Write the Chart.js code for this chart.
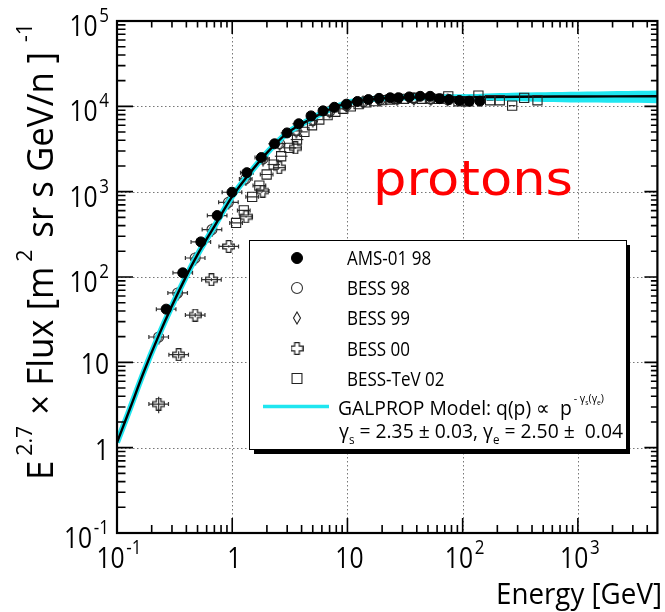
<!DOCTYPE html>
<html>
<head>
<meta charset="utf-8">
<script src="https://cdn.jsdelivr.net/npm/chart.js@4.4.1/dist/chart.umd.min.js"></script>
<style>
  html, body { margin: 0; padding: 0; background: #fff; }
</style>
</head>
<body>
<canvas id="fluxChart" width="665" height="612"></canvas>
<script>
// axis ranges
const xMin = 0.1, xMax = 4900;
const yMin = 0.1, yMax = 1e5;
const xTickValues = [0.1, 1, 10, 100, 1000];
const yTickValues = [0.1, 1, 10, 100, 1000, 10000, 100000];

// AMS-01 98 (filled circles)
const amsE = [0.267, 0.372, 0.534, 0.740, 0.995, 1.34, 1.79, 2.33, 2.99, 3.78, 4.83, 6.14, 7.70, 9.8, 12.2, 15.2, 18.8, 23.5, 27.8, 34.4, 42.8, 52.2, 62.9, 76.2, 93.6, 114, 141];
const amsF = [42, 112, 258, 525, 985, 1670, 2510, 3640, 4880, 6250, 7730, 8850, 9750, 10600, 11400, 12000, 12400, 12600, 12600, 12900, 13100, 13100, 12300, 12000, 11700, 11500, 11500];

// BESS 98 (open circles)
const b98E = [0.230, 0.336, 0.477, 0.667, 0.927, 1.31, 1.85, 2.58, 3.6, 5.0, 7.0, 9.8, 13.7, 19.2, 27, 37.7, 52.8, 74, 103];
const b98F = [19.8, 65, 167, 360, 750, 1410, 2420, 3660, 5150, 6900, 8700, 10200, 11300, 11900, 12200, 12300, 12200, 12000, 11800];

// BESS 99 (open diamonds)
const b99E = [0.230, 0.336, 0.477, 0.667, 0.927, 1.31, 1.85, 2.58, 3.6, 5.0, 7.0, 9.8, 13.7, 19.2, 27, 37.7, 52.8, 74, 103];
const b99F = [19.5, 63, 162, 352, 735, 1390, 2380, 3600, 5050, 6800, 8600, 10100, 11200, 11800, 12100, 12200, 12100, 11900, 11700];

// BESS 00 (open crosses) with relative y errors
const b00E = [0.230, 0.343, 0.477, 0.660, 0.933, 1.32, 1.84, 2.56, 3.53];
const b00F = [3.24, 12.3, 35.8, 93, 228, 508, 1015, 1910, 3260];
const b00YErr = [0.22, 0.10, 0.06, 0.04, 0.03, 0.02, 0.02, 0.02, 0.02];

// BESS-TeV 02 (open squares)
const tevE = [1.08, 1.26, 1.49, 1.72, 1.99, 2.29, 2.66, 3.13, 3.65, 4.23, 4.93, 5.70, 6.73, 7.85, 9.2, 10.7, 12.5, 14.6, 17.1, 20.0, 23.4, 26.8, 31.0, 36.6, 44.2, 52, 62, 75, 92, 112, 137, 173, 210, 269, 342, 446];
const tevF = [430, 603, 869, 1180, 1590, 2080, 2600, 3260, 4080, 5020, 6000, 7000, 7870, 8630, 9350, 10000, 10600, 11100, 11500, 11800, 12000, 12200, 12250, 12600, 12250, 12300, 12200, 13100, 11450, 11450, 13370, 11780, 11780, 10200, 12570, 11780];

// GALPROP model curve and its uncertainty band
const modelE = [0.1, 0.13, 0.17, 0.228, 0.3, 0.4, 0.5, 0.7, 1.0, 1.4, 2, 3, 4, 5, 7, 10, 14, 20, 30, 50, 100, 300, 1000, 4900];
const modelF = [1.15, 2.9, 7.6, 20, 46, 103, 183, 392, 880, 1610, 2850, 4850, 6200, 7300, 9200, 11000, 11900, 12400, 12650, 12750, 12800, 12950, 13050, 13150];
const bandE = [20, 30, 100, 270, 1000, 4900];
const bandHi = [12600, 12900, 13700, 14400, 14800, 15300];
const bandLo = [12200, 12200, 12000, 11500, 11100, 10900];

const FONT = '"Open Sans", "DejaVu Sans", sans-serif';
const SQ = 0.85;
const CYAN = '#1fe6f0';
const INK = '#222';

function pts(xs, ys) { return xs.map((x, i) => ({ x: x, y: ys[i] })); }

// marker images for shapes chart.js lacks
function openCross() {
  const c = document.createElement('canvas');
  c.width = 13; c.height = 13;
  const g = c.getContext('2d');
  const a = 2.3, L = 5.8, m = 6.5;
  g.strokeStyle = INK; g.lineWidth = 1.2;
  g.beginPath();
  g.moveTo(m - a, m - L); g.lineTo(m + a, m - L); g.lineTo(m + a, m - a);
  g.lineTo(m + L, m - a); g.lineTo(m + L, m + a); g.lineTo(m + a, m + a);
  g.lineTo(m + a, m + L); g.lineTo(m - a, m + L); g.lineTo(m - a, m + a);
  g.lineTo(m - L, m + a); g.lineTo(m - L, m - a); g.lineTo(m - a, m - a);
  g.closePath(); g.stroke();
  return c;
}
function openDiamond() {
  const c = document.createElement('canvas');
  c.width = 10; c.height = 14;
  const g = c.getContext('2d');
  g.strokeStyle = INK; g.lineWidth = 1.1;
  g.beginPath();
  g.moveTo(5, 1); g.lineTo(8.5, 7); g.lineTo(5, 13); g.lineTo(1.5, 7); g.closePath();
  g.stroke();
  return c;
}
const crossImg = openCross();
const diamondImg = openDiamond();

function drawRich(ctx, runs, x, y, opt) {
  opt = opt || {};
  ctx.save();
  ctx.fillStyle = opt.color || '#000';
  ctx.textBaseline = 'alphabetic';
  const fam = opt.font || FONT;
  const w = runs.map(r => { ctx.font = r.size + 'px ' + fam; return ctx.measureText(r.t).width + (r.dx || 0); });
  const natural = w.reduce((a, b) => a + b, 0);
  const sq = opt.width ? opt.width / natural : (opt.squeeze || SQ);
  const total = natural * sq;
  ctx.translate(x, y);
  if (opt.rotate) ctx.rotate(opt.rotate);
  ctx.translate(opt.align === 'right' ? -total : opt.align === 'center' ? -total / 2 : 0, 0);
  ctx.scale(sq, 1);
  let cx = 0;
  runs.forEach((r, i) => {
    ctx.font = r.size + 'px ' + fam;
    ctx.fillText(r.t, cx + (r.dx || 0), r.dy || 0);
    cx += w[i];
  });
  ctx.restore();
}

function expLabel(v, big, small, rise) {
  if (v === 1) return [{ t: '1', size: big }];
  if (v === 10) return [{ t: '10', size: big }];
  const e = Math.round(Math.log10(v));
  return [{ t: '10', size: big }, { t: String(e), size: small, dy: -rise, dx: 2 }];
}

function minorValues(lo, hi) {
  const out = [];
  for (let d = Math.floor(Math.log10(lo)); d <= Math.ceil(Math.log10(hi)); d++) {
    for (let k = 1; k <= 9; k++) {
      const v = k * Math.pow(10, d);
      if (v >= lo * 0.999 && v <= hi * 1.001) out.push({ v: v, major: k === 1 });
    }
  }
  return out;
}

// grid and error bars under the markers
const underlay = {
  id: 'underlay',
  beforeDatasetsDraw(chart) {
    const { ctx, chartArea: a, scales: { x, y } } = chart;
    ctx.save();
    ctx.strokeStyle = '#777';
    ctx.lineWidth = 1;
    ctx.setLineDash([1.5, 2.5]);
    xTickValues.forEach(v => {
      const px = Math.round(x.getPixelForValue(v)) + 0.5;
      if (px <= a.left + 2 || px >= a.right - 2) return;
      ctx.beginPath(); ctx.moveTo(px, a.top); ctx.lineTo(px, a.bottom); ctx.stroke();
    });
    yTickValues.forEach(v => {
      const py = Math.round(y.getPixelForValue(v)) + 0.5;
      if (py <= a.top + 2 || py >= a.bottom - 2) return;
      ctx.beginPath(); ctx.moveTo(a.left, py); ctx.lineTo(a.right, py); ctx.stroke();
    });
    ctx.setLineDash([]);

    // horizontal bin bars and vertical error bars
    ctx.strokeStyle = '#333';
    ctx.lineWidth = 1.2;
    chart.data.datasets.forEach(ds => {
      if (!ds.errBars) return;
      ds.data.forEach((p, i) => {
        const hw = p.x < 1 ? 0.085 : p.x < 4 ? 0.055 : 0.03;
        const xl = x.getPixelForValue(p.x * Math.pow(10, -hw));
        const xr = x.getPixelForValue(p.x * Math.pow(10, hw));
        const py = y.getPixelForValue(p.y);
        ctx.beginPath();
        ctx.moveTo(xl, py); ctx.lineTo(xr, py);
        if (p.x < 2) {
          ctx.moveTo(xl, py - 2); ctx.lineTo(xl, py + 2);
          ctx.moveTo(xr, py - 2); ctx.lineTo(xr, py + 2);
        }
        ctx.stroke();
        if (ds.yErr && ds.yErr[i]) {
          const px = x.getPixelForValue(p.x);
          const yt = y.getPixelForValue(p.y * (1 + ds.yErr[i]));
          const yb = y.getPixelForValue(p.y * (1 - ds.yErr[i]));
          ctx.beginPath(); ctx.moveTo(px, yt); ctx.lineTo(px, yb); ctx.stroke();
        }
      });
    });
    ctx.restore();
  }
};

// frame, ticks, labels, legend, annotation
const overlay = {
  id: 'overlay',
  afterDraw(chart) {
    const { ctx, chartArea: a, scales: { x, y } } = chart;
    ctx.save();
    ctx.strokeStyle = '#000';
    ctx.lineWidth = 1.6;
    minorValues(xMin, xMax).forEach(t => {
      const px = x.getPixelForValue(t.v);
      const len = t.major ? 15 : 8;
      ctx.beginPath();
      ctx.moveTo(px, a.bottom); ctx.lineTo(px, a.bottom - len);
      ctx.moveTo(px, a.top); ctx.lineTo(px, a.top + (t.major ? 13 : 6.5));
      ctx.stroke();
    });
    minorValues(yMin, yMax).forEach(t => {
      const py = y.getPixelForValue(t.v);
      const len = t.major ? 16 : 8.5;
      ctx.beginPath();
      ctx.moveTo(a.left, py); ctx.lineTo(a.left + len, py);
      ctx.moveTo(a.right, py); ctx.lineTo(a.right - (t.major ? 13 : 6.5), py);
      ctx.stroke();
    });
    ctx.lineWidth = 2.2;
    ctx.strokeRect(a.left, a.top, a.right - a.left, a.bottom - a.top);
    ctx.restore();

    // tick labels
    xTickValues.forEach(v => {
      drawRich(ctx, expLabel(v, 29, 20, 14), x.getPixelForValue(v) + 2, 568, { align: 'center' });
    });
    yTickValues.forEach(v => {
      const hasExp = !(v === 1 || v === 10);
      drawRich(ctx, expLabel(v, 29, 20, 14), 109, y.getPixelForValue(v) + (hasExp ? 15 : 12), { align: 'right' });
    });

    // axis titles
    drawRich(ctx, [{ t: 'Energy [GeV]', size: 30 }], 662, 604, { align: 'right', width: 166 });
    drawRich(ctx, [
      { t: 'E', size: 36 },
      { t: '2.7', size: 22, dy: -21, dx: 5 },
      { t: ' \u00d7 Flux [m', size: 36, dx: 2 },
      { t: '2', size: 22, dy: -21, dx: 5 },
      { t: ' sr s GeV/n ]', size: 36, dx: 3 },
      { t: '-1', size: 22, dy: -21, dx: 10 }
    ], 53, 480, { rotate: -Math.PI / 2, width: 457 });

    // annotation
    drawRich(ctx, [{ t: 'protons', size: 48 }], 373, 195, { color: '#ff0000', width: 200, font: '"DejaVu Sans", sans-serif' });

    // legend box with shadow
    ctx.save();
    ctx.fillStyle = '#000';
    ctx.fillRect(254, 245, 376, 209);
    ctx.fillStyle = '#fff';
    ctx.fillRect(249, 240, 378, 210);
    ctx.strokeStyle = '#000';
    ctx.lineWidth = 1;
    ctx.strokeRect(249.5, 240.5, 377, 209);
    ctx.restore();

    const rows = [
      { label: 'AMS-01 98', y: 258 },
      { label: 'BESS 98', y: 288 },
      { label: 'BESS 99', y: 318 },
      { label: 'BESS 00', y: 348.5 },
      { label: 'BESS-TeV 02', y: 378.5 }
    ];
    const sets = chart.data.datasets.filter(d => d.legendRow !== undefined).sort((p, q) => p.legendRow - q.legendRow);
    sets.forEach((ds, i) => {
      ctx.save();
      ctx.fillStyle = ds.pointBackgroundColor || ds.backgroundColor || 'transparent';
      ctx.strokeStyle = ds.pointBorderColor || ds.borderColor || INK;
      ctx.lineWidth = ds.pointBorderWidth || 1.2;
      Chart.helpers.drawPoint(ctx, {
        pointStyle: ds.pointStyle, radius: ds.pointRadius + 0.5, rotation: 0, borderWidth: ds.pointBorderWidth || 1.2
      }, 297, rows[i].y);
      ctx.restore();
      drawRich(ctx, [{ t: rows[i].label, size: 20 }], 347, rows[i].y + 7);
    });

    ctx.save();
    ctx.strokeStyle = CYAN;
    ctx.lineWidth = 3.5;
    ctx.beginPath(); ctx.moveTo(263, 406.5); ctx.lineTo(329, 406.5); ctx.stroke();
    ctx.restore();
    drawRich(ctx, [
      { t: 'GALPROP Model: q(p) \u221d  p', size: 20 },
      { t: '- \u03b3', size: 11, dy: -13, dx: 2 },
      { t: 's', size: 7, dy: -10 },
      { t: '(\u03b3', size: 11, dy: -13 },
      { t: 'e', size: 7, dy: -10 },
      { t: ')', size: 11, dy: -13 }
    ], 338, 415, { width: 266 });
    drawRich(ctx, [
      { t: '\u03b3', size: 20 },
      { t: 's', size: 12, dy: 6 },
      { t: ' = 2.35 \u00b1 0.03, \u03b3', size: 20 },
      { t: 'e', size: 12, dy: 6 },
      { t: ' = 2.50 \u00b1  0.04', size: 20 }
    ], 339, 438, { width: 284 });
  }
};

new Chart(document.getElementById('fluxChart'), {
  type: 'line',
  data: {
    datasets: [
      {
        label: 'AMS-01 98', data: pts(amsE, amsF), showLine: false, order: 0, legendRow: 0, errBars: true,
        pointStyle: 'circle', pointRadius: 5, pointBackgroundColor: '#000', pointBorderColor: '#000', pointBorderWidth: 1
      },
      {
        label: 'BESS-TeV 02', data: pts(tevE, tevF), showLine: false, order: 1, legendRow: 4, errBars: true,
        pointStyle: 'rect', pointRadius: 6.5, pointBackgroundColor: 'transparent', pointBorderColor: INK, pointBorderWidth: 1.1
      },
      {
        label: 'BESS 00', data: pts(b00E, b00F), yErr: b00YErr, showLine: false, order: 2, legendRow: 3, errBars: true,
        pointStyle: crossImg, pointRadius: 6, pointBackgroundColor: 'transparent', pointBorderColor: INK
      },
      {
        label: 'model', data: pts(modelE, modelF), showLine: true, order: 3, pointRadius: 0,
        borderColor: '#000', borderWidth: 2.4, fill: false, cubicInterpolationMode: 'monotone'
      },
      {
        label: 'model band edge', data: pts(modelE, modelF), showLine: true, order: 4, pointRadius: 0,
        borderColor: CYAN, borderWidth: 6, fill: false, cubicInterpolationMode: 'monotone'
      },
      {
        label: 'BESS 98', data: pts(b98E, b98F), showLine: false, order: 5, legendRow: 1, errBars: true,
        pointStyle: 'circle', pointRadius: 5, pointBackgroundColor: 'transparent', pointBorderColor: '#333', pointBorderWidth: 1.1
      },
      {
        label: 'BESS 99', data: pts(b99E, b99F), showLine: false, order: 6, legendRow: 2,
        pointStyle: diamondImg, pointRadius: 5, pointBackgroundColor: 'transparent', pointBorderColor: INK
      },
      {
        label: 'band hi', data: pts(bandE, bandHi), showLine: true, order: 7, pointRadius: 0,
        borderWidth: 0, borderColor: CYAN, backgroundColor: CYAN, fill: '+1', tension: 0.3
      },
      {
        label: 'band lo', data: pts(bandE, bandLo), showLine: true, order: 8, pointRadius: 0,
        borderWidth: 0, borderColor: CYAN, fill: false, tension: 0.3
      }
    ]
  },
  options: {
    responsive: false,
    animation: false,
    devicePixelRatio: 1,
    events: [],
    layout: { padding: { left: 117, right: 6, top: 21, bottom: 79 } },
    plugins: { legend: { display: false }, tooltip: { enabled: false } },
    scales: {
      x: { type: 'logarithmic', min: xMin, max: xMax, display: false },
      y: { type: 'logarithmic', min: yMin, max: yMax, display: false }
    }
  },
  plugins: [underlay, overlay]
});
</script>
</body>
</html>
